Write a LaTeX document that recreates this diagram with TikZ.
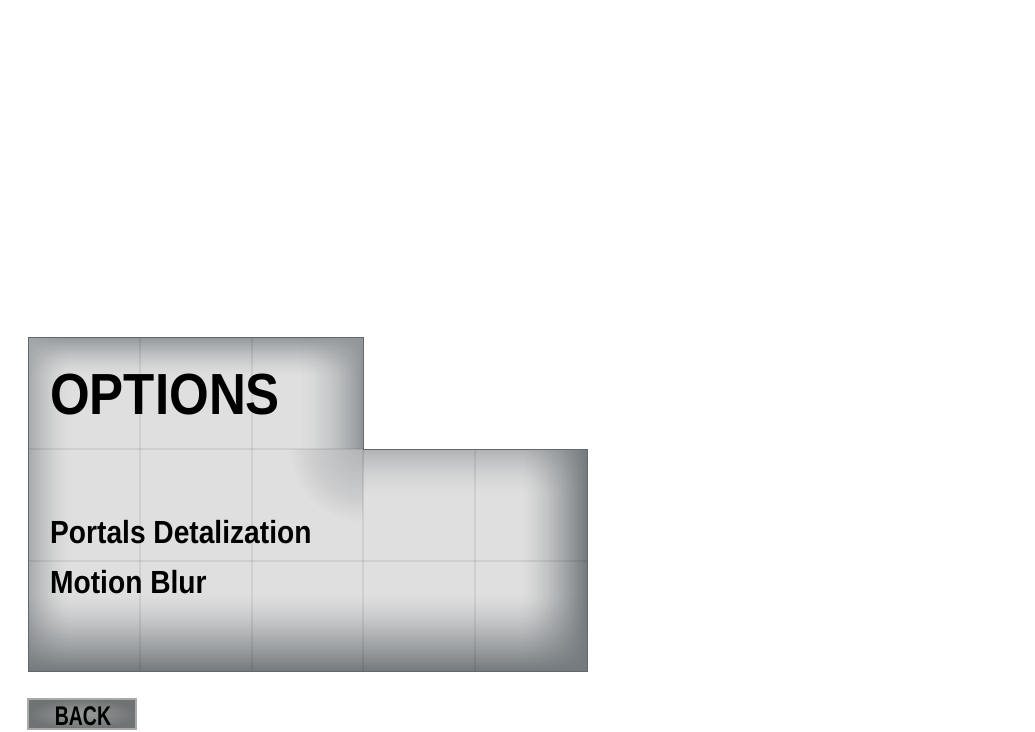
\documentclass[tikz,border=0pt]{standalone}
\usepackage{fontspec}
\newfontfamily\uifont{Liberation Sans}[FakeStretch=0.88]
\newfontfamily\btnfont{Liberation Sans}[FakeStretch=0.72]
\definecolor{panelbase}{RGB}{223,223,223}
\definecolor{paneledge}{RGB}{116,122,126}
\definecolor{edgetop}{RGB}{145,150,153}
\definecolor{edgeleft}{RGB}{165,168,170}
\definecolor{panelline}{RGB}{100,104,107}
\definecolor{btnface}{RGB}{152,155,154}
\definecolor{btnedge}{RGB}{112,115,115}
\definecolor{btnrim}{RGB}{170,170,170}
\tikzset{
    gridline/.style={draw=black, opacity=0.07, line width=2pt},
    titletext/.style={anchor=base west, inner sep=0pt, font=\uifont\bfseries\fontsize{58}{60}\selectfont},
    menuitem/.style={anchor=base west, inner sep=0pt, font=\uifont\bfseries\fontsize{32}{34}\selectfont},
    backbutton/.style={draw=btnrim, line width=2pt, inner color=btnface, outer color=btnedge,
        minimum width=108pt, minimum height=30pt, inner sep=0pt},
    backtext/.style={anchor=base, inner sep=0pt, font=\btnfont\bfseries\fontsize{27}{29}\selectfont}
}
\begin{document}
\begin{tikzpicture}[x=1pt,y=-1pt]
    \useasboundingbox[fill=white] (0,0) rectangle (1035,731);

    % Options panel
    \fill[panelbase] (28,337) -- (363,337) -- (363,449) -- (587,449) -- (587,671) -- (28,671) -- cycle;
    % soft shadow under the corner of the upper part
    \begin{scope}
        \clip (283,449) rectangle (363,529);
        \foreach \rad in {4,8,...,72}
            \fill[edgetop, opacity=0.035] (363,449) ellipse [x radius=\rad pt, y radius=\rad pt];
    \end{scope}
    \begin{scope}
        \clip (28,337) -- (363,337) -- (363,449) -- (587,449) -- (587,671) -- (28,671) -- cycle;
        % edge darkening, built from thin strips
        \foreach \k [evaluate=\k as \op using {((20-\k-0.5)/20)^1.5}] in {0,...,19}
            \fill[edgetop, opacity=\op] (28,337+2*\k) rectangle (363,339+2*\k);
        \foreach \k [evaluate=\k as \op using {((\k+0.5)/32)^1.6}] in {0,...,31}
            \fill[edgetop, opacity=\op] (299+2*\k,337) rectangle (301+2*\k,449);
        \foreach \k [evaluate=\k as \op using {0.6*((23-\k-0.5)/23)^1.5}] in {0,...,22}
            \fill[edgetop, opacity=\op] (363,449+2*\k) rectangle (587,451+2*\k);
        \foreach \k [evaluate=\k as \op using {((21-\k-0.5)/21)^1.5}] in {0,...,20}
            \fill[edgeleft, opacity=\op] (28+2*\k,337) rectangle (30+2*\k,671);
        \foreach \k [evaluate=\k as \op using {((\k+0.5)/33)^1.4}] in {0,...,32}
            \fill[paneledge, opacity=\op] (521+2*\k,449) rectangle (523+2*\k,671);
        \foreach \k [evaluate=\k as \op using {((\k+0.5)/38)^1.3}] in {0,...,37}
            \fill[paneledge, opacity=\op] (28,595+2*\k) rectangle (587,597+2*\k);
        % grid
        \foreach \gx in {140,252}
            \draw[gridline] (\gx,337) -- (\gx,671);
        \foreach \gx in {363,475}
            \draw[gridline] (\gx,449) -- (\gx,671);
        \draw[gridline] (28,449) -- (363,449);
        \draw[gridline] (28,561) -- (587,561);
    \end{scope}
    \draw[panelline, line width=1pt] (28,337) -- (363,337) -- (363,449) -- (587,449) -- (587,671) -- (28,671) -- cycle;

    % Title and menu
    \node[titletext] (title) at (50,414) {OPTIONS};
    \node[menuitem] (portals) at (50,543) {Portals Detalization};
    \node[menuitem] (motionblur) at (50,593) {Motion Blur};

    % Back button
    \node[backbutton] (back) at (82,714) {};
    \node[backtext] (backlabel) at (83,725) {BACK};
\end{tikzpicture}
\end{document}
